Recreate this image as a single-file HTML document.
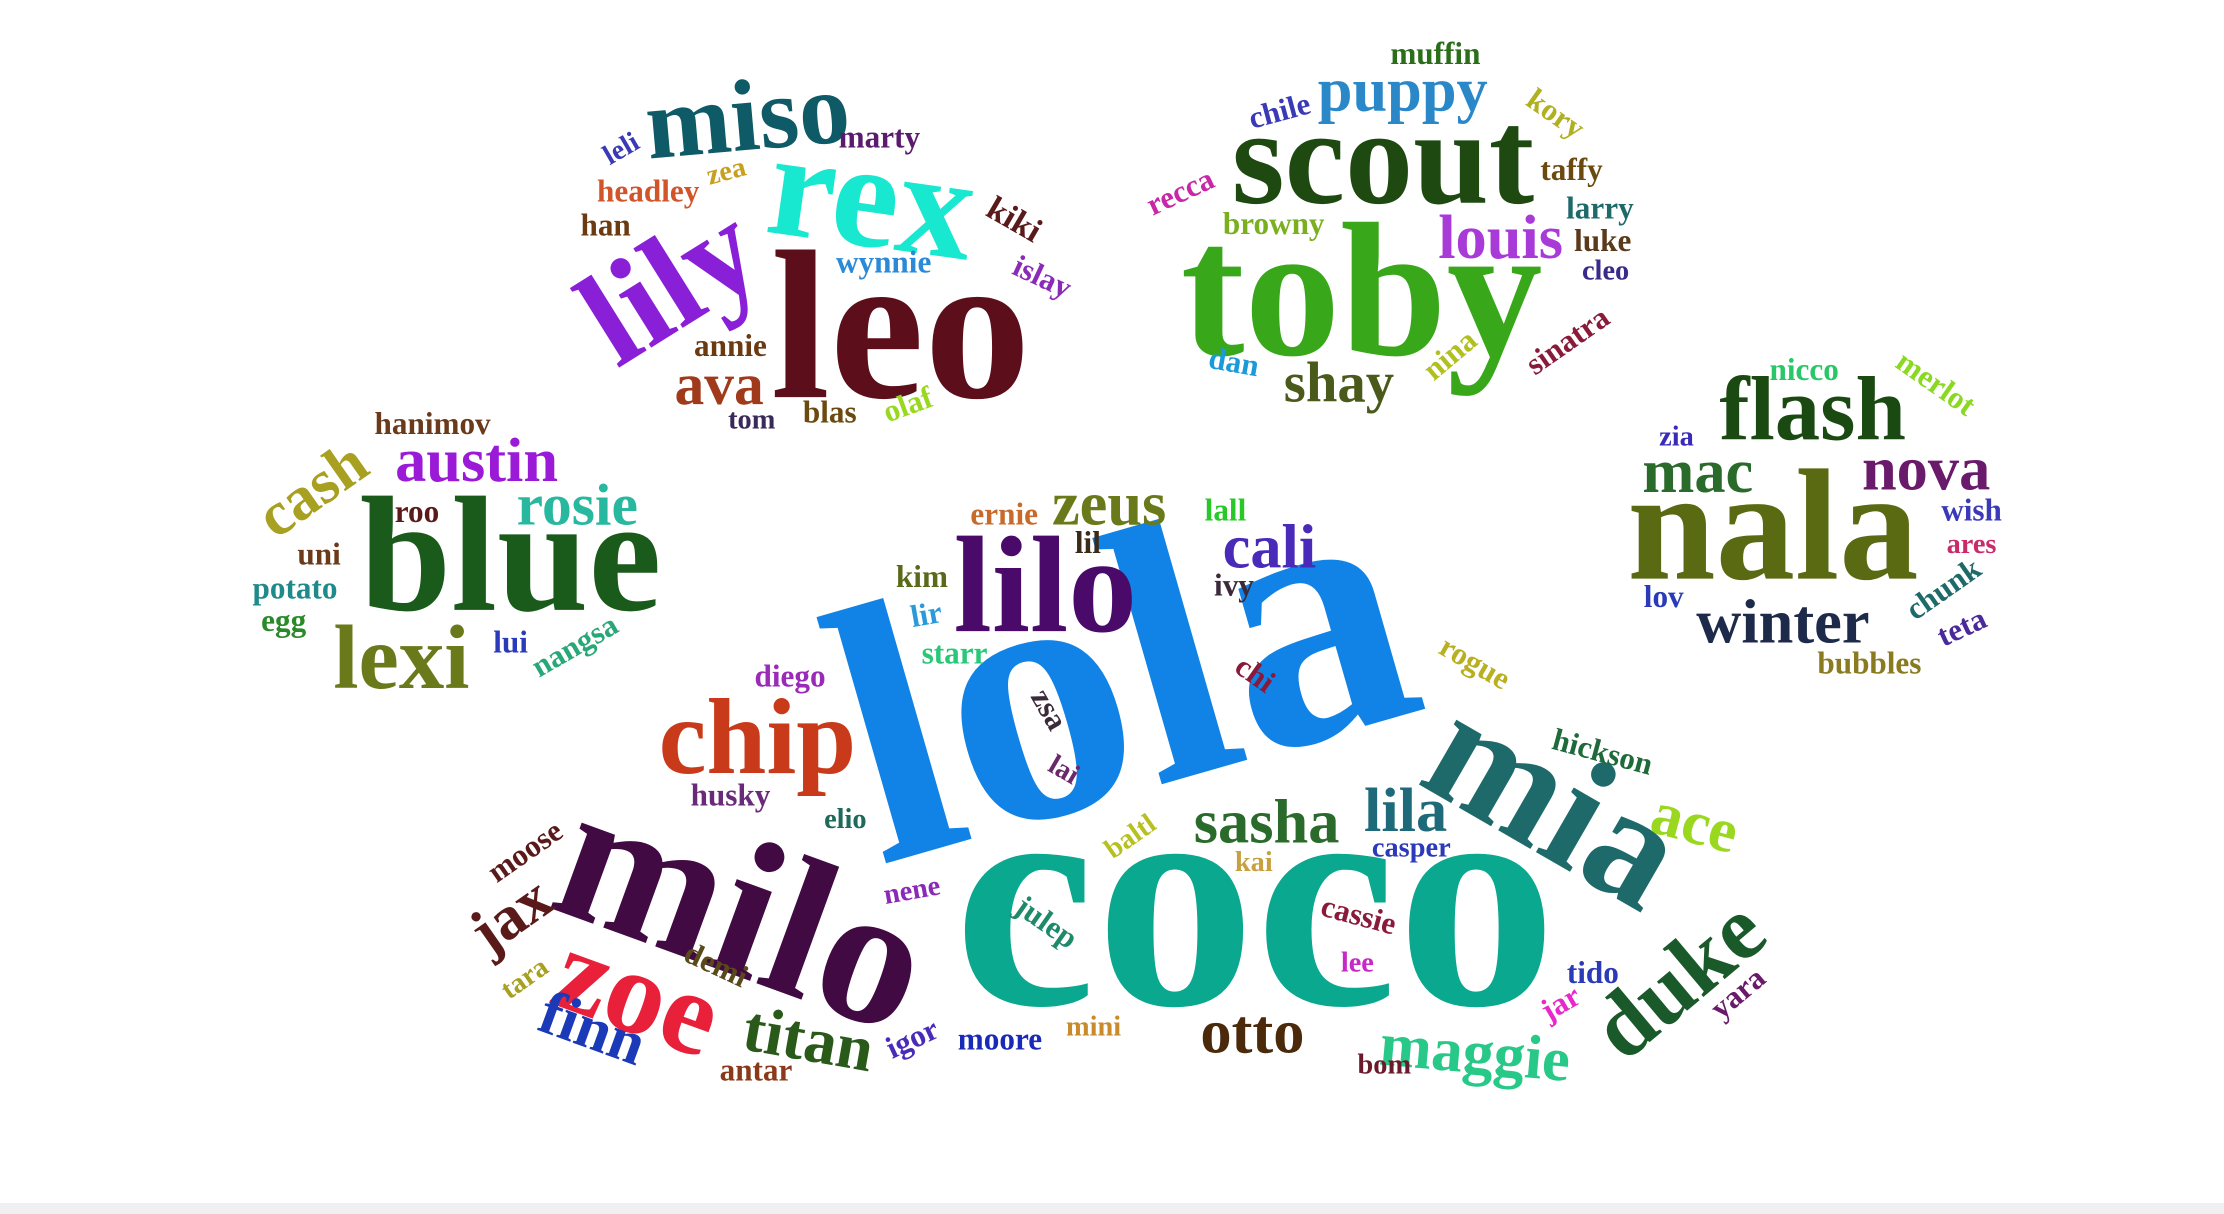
<!DOCTYPE html>
<html>
<head>
<meta charset="utf-8">
<style>
  html,body{margin:0;padding:0;background:#fff;width:2224px;height:1214px;overflow:hidden;}
  #cloud{position:absolute;left:0;top:0;}
  #bottom-band{position:absolute;left:0;top:1203px;width:2224px;height:11px;background:#f0f0f2;}
  text{font-family:"Liberation Serif",serif;font-weight:bold;}
</style>
</head>
<body>
<svg id="cloud" width="2224" height="1214" viewBox="0 0 1568 856" preserveAspectRatio="none"></svg>
<div id="bottom-band"></div>
<script>
// word data (size ~ frequency weight)
const words = ["lola","coco","milo","toby","leo","nala","blue","rex","mia","lilo","scout","zoe","chip","miso","lily","lexi","flash","duke","zeus","cali","sasha","lila","ace","jax","finn","titan","otto","maggie","austin","rosie","cash","mac","nova","winter","puppy","louis","shay","ava",
"marty","leli","zea","headley","han","kiki","wynnie","islay","annie","tom","blas","olaf",
"muffin","chile","kory","taffy","recca","larry","browny","luke","cleo","sinatra","nina","dan",
"nicco","merlot","zia","wish","ares","chunk","lov","teta","bubbles",
"hanimov","roo","uni","potato","egg","lui","nangsa",
"ernie","lall","lil","kim","ivy","lir","starr","diego","rogue","chi","zsa","hickson","lai","husky","elio","casper","baltl","kai","moose","cassie","nene","julep","demi","lee","tido","tara","jar","yara","mini","igor","moore","antar","bom"];
const weights = [260,225,140,135,150,112,116,106,115,97,96,84,76,72,95,64,64,64,44,44,44,44,44,44,44,46,44,44,44,42,44,44,44,44,44,44,40,42,
22,20,20,22,22,24,22,22,22,20,22,22,
22,22,22,22,22,22,22,22,20,22,22,22,
22,22,20,22,20,22,22,22,22,
22,22,22,22,22,22,22,
22,22,22,22,22,22,22,22,22,22,22,22,20,22,20,20,20,20,22,22,20,22,22,20,22,20,22,22,20,22,22,22,20];
const colors = ["#1183e6","#0aa88e","#420a42","#38a81a","#5c0f1a","#5a6a12","#1a5a1a","#19e8d0","#1e6a6a","#4a0a6a","#1e4a12","#e8203a","#c83a1a","#0e5a66","#8a1fd8","#6a7a1a","#1a4a12","#1a5a2a","#6a7a1a","#4a2ab8","#2a6a2a","#1e6a7a","#9ad820","#5a1a1a","#1a3ab8","#2a5a1a","#4a2a0a","#28c888","#9a1ad8","#28b8a0","#a8a020","#2a6a2a","#6a1a6a","#1e2a4a","#2a88c8","#a83ad8","#4a5a1a","#a03a1a",
"#5a1a6e","#3a3ab8","#c8a020","#d2552a","#6b3a10","#5a1a1a","#2a8ad8","#8a2ab8","#6b3a10","#3a2a5a","#6b4a10","#9ad820",
"#2a6e1a","#3a3ab8","#b0b020","#6b4a10","#c828a8","#1e6a6a","#7ab020","#5a3a1a","#3a2a8a","#8a1a3a","#b0c020","#1a9ad8",
"#28c868","#8ad820","#3a2ab8","#3a3ab8","#c82a6a","#1e6a6a","#2a3ab8","#4a2a9a","#8a7a20",
"#6a3a1a","#5a1a1a","#6a3a1a","#1e8a8a","#2a8a2a","#2a3ab8","#28a878",
"#c86a2a","#28c828","#3a2a1a","#5a6a1a","#3a2a3a","#2a9ad8","#28c878","#9a2ab8","#b8b020","#8a1a3a","#3a2a3a","#1e6a3a","#6a2a6a","#6a2a7a","#1e6a5a","#2a3ab8","#b8c020","#c8a040","#5a1a1a","#8a1a3a","#8a2ab8","#1e8a6a","#5a4a1a","#c828c8","#2a3ab8","#a8a020","#e828c8","#6a1a6a","#c88a2a","#4a2ab8","#1a2ab8","#8a3a1a","#6a1a2a"];
// layout: [x, y, rotation]; rotation 0 -> y is baseline, otherwise y is visual centre
const layout = [[790,470,-16],[885,708,0],[525,640,20],[960,250,0],[635,280,0],[1250,408,0],[360,430,0],[615,138,8],[1097,565,30],[737,445,0],[975,143,0],[450,700,20],[534,545,0],[527,82,-5],[472,200,-32],[283,485,0],[1278,310,0],[1183,690,-40],[782,370,0],[895,400,0],[893,594,0],[991,586,0],[1195,580,15],[360,645,-35],[418,725,20],[570,733,10],[883,742,0],[1040,742,5],[336,339,0],[407,370,0],[220,345,-35],[1197,347,0],[1358,345,0],[1257,453,0],[989,78,0],[1058,182,0],[944,283,0],[507,285,0],
[620,104,0],[438,105,-30],[512,121,-15],[457,142,0],[427,166,0],[715,155,30],[623,192,0],[735,195,25],[515,251,0],[530,302,0],[585,298,0],[640,285,-20],
[1012,45,0],[902,78,-15],[1097,80,35],[1108,127,0],[832,135,-25],[1128,154,0],[898,165,0],[1130,177,0],[1132,197,0],[1105,240,-35],[1022,250,-40],[870,255,10],
[1272,268,0],[1365,270,35],[1182,314,0],[1390,367,0],[1390,390,0],[1370,415,-35],[1173,428,0],[1383,442,-25],[1318,475,0],
[305,306,0],[294,368,0],[225,398,0],[208,422,0],[200,445,0],[360,460,0],[405,455,-30],
[708,370,0],[864,367,0],[767,390,0],[650,414,0],[870,420,0],[653,433,-10],[673,468,0],[557,484,0],[1040,467,30],[885,475,35],[740,500,60],[1130,530,15],[750,543,30],[515,568,0],[596,584,0],[995,604,0],[797,590,-35],[884,614,0],[370,600,-35],[958,645,15],[643,628,-10],[738,650,35],[505,680,25],[957,685,0],[1123,693,0],[370,690,-35],[1100,707,-30],[1225,700,-40],[771,730,0],[643,732,-25],[705,740,0],[533,762,0],[976,757,0]];

const svg = document.getElementById('cloud');
const NS = 'http://www.w3.org/2000/svg';
for (let i = 0; i < words.length; i++) {
  const [x, y, r] = layout[i];
  const t = document.createElementNS(NS, 'text');
  t.setAttribute('x', x);
  t.setAttribute('y', y);
  t.setAttribute('font-size', weights[i]);
  t.setAttribute('fill', colors[i]);
  t.setAttribute('text-anchor', 'middle');
  if (r !== 0) {
    t.setAttribute('dominant-baseline', 'central');
    t.setAttribute('transform', 'rotate(' + r + ' ' + x + ' ' + y + ')');
  }
  t.textContent = words[i];
  
  
  svg.appendChild(t);
}
</script>
</body>
</html>
